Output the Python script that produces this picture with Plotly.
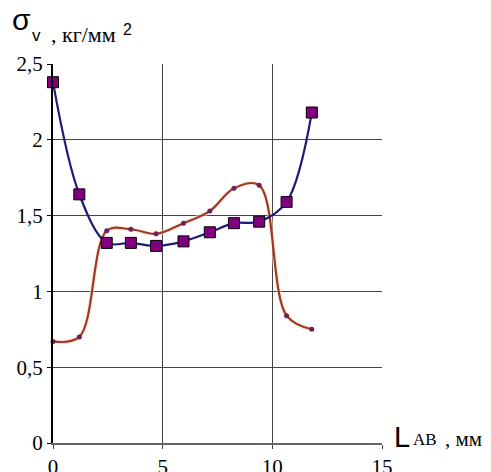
import plotly.graph_objects as go

# Data
x_pts = [0.0, 1.2, 2.45, 3.55, 4.7, 5.95, 7.15, 8.25, 9.4, 10.65, 11.8]
sigma_blue = [2.38, 1.64, 1.32, 1.32, 1.30, 1.33, 1.39, 1.45, 1.46, 1.59, 2.18]
sigma_red = [0.67, 0.70, 1.40, 1.41, 1.38, 1.45, 1.53, 1.68, 1.70, 0.84, 0.75]
x_ticks = [0, 5, 10, 15]
y_ticks = [0, 0.5, 1, 1.5, 2, 2.5]
y_tick_text = ["0", "0,5", "1", "1,5", "2", "2,5"]

W, H = 491, 472
L, R, T, B = 52.7, 109.3, 64.4, 29
pw, ph = W - L - R, H - T - B

def px(xp):
    return (xp - L) / pw

def py(yp):
    return (H - B - yp) / ph

fig = go.Figure()

# pale halo under red line
fig.add_trace(go.Scatter(x=x_pts, y=sigma_red, mode="lines",
                         line=dict(color="rgba(245,235,200,0.55)", width=5, shape="spline", smoothing=1),
                         hoverinfo="skip", showlegend=False, cliponaxis=False))
fig.add_trace(go.Scatter(x=x_pts, y=sigma_red, mode="lines+markers",
                         line=dict(color="#a2352b", width=2.2, shape="spline", smoothing=1),
                         marker=dict(symbol="circle", size=5, color="#6e1f5c"),
                         showlegend=False, cliponaxis=False))
fig.add_trace(go.Scatter(x=x_pts, y=sigma_blue, mode="lines+markers",
                         line=dict(color="#1c1c78", width=2.2, shape="spline", smoothing=1),
                         marker=dict(symbol="square", size=11, color="#800080",
                                     line=dict(color="black", width=1)),
                         showlegend=False, cliponaxis=False))

serif = "Liberation Serif, Times New Roman, Times, serif"
sans = "Liberation Sans, Arial, sans-serif"

fig.update_layout(
    width=W, height=H,
    margin=dict(l=L, r=R, t=T, b=B, pad=0),
    paper_bgcolor="white", plot_bgcolor="white",
    xaxis=dict(range=[0, 15], tickvals=x_ticks, ticktext=[str(v) for v in x_ticks],
               showgrid=True, gridcolor="#444", gridwidth=1,
               showline=True, linecolor="#666", linewidth=1.5,
               ticks="outside", ticklen=4, tickcolor="#444",
               tickfont=dict(family=serif, size=21, color="black"),
               zeroline=False, fixedrange=True, automargin=False),
    yaxis=dict(range=[0, 2.5], tickvals=y_ticks, ticktext=y_tick_text,
               showgrid=True, gridcolor="#444", gridwidth=1,
               showline=True, linecolor="black", linewidth=2,
               ticks="outside", ticklen=4, tickcolor="black",
               tickfont=dict(family=serif, size=21, color="black"),
               zeroline=False, fixedrange=True, automargin=False),
)

ann = []
# y-axis title pieces
ann.append(dict(text="σ", x=px(11), y=py(20), xanchor="left", yanchor="middle",
                font=dict(family=sans, size=30, color="black")))
ann.append(dict(text="v", x=px(31), y=py(36), xanchor="left", yanchor="middle",
                font=dict(family=sans, size=17, color="black")))
ann.append(dict(text=", кг/мм", x=px(50), y=py(35), xanchor="left", yanchor="middle",
                font=dict(family=serif, size=22, color="black")))
ann.append(dict(text="2", x=px(122), y=py(30), xanchor="left", yanchor="middle",
                font=dict(family=sans, size=16, color="black")))
# x-axis title pieces
ann.append(dict(text="L", x=px(393), y=py(437), xanchor="left", yanchor="middle",
                font=dict(family=sans, size=29, color="black")))
ann.append(dict(text="AB", x=px(412), y=py(440), xanchor="left", yanchor="middle",
                font=dict(family=serif, size=17, color="black")))
ann.append(dict(text=", мм", x=px(444), y=py(439), xanchor="left", yanchor="middle",
                font=dict(family=serif, size=21, color="black")))
for a in ann:
    a.update(xref="paper", yref="paper", showarrow=False, borderpad=0)
fig.update_layout(annotations=ann)

fig.write_html("out.html")
